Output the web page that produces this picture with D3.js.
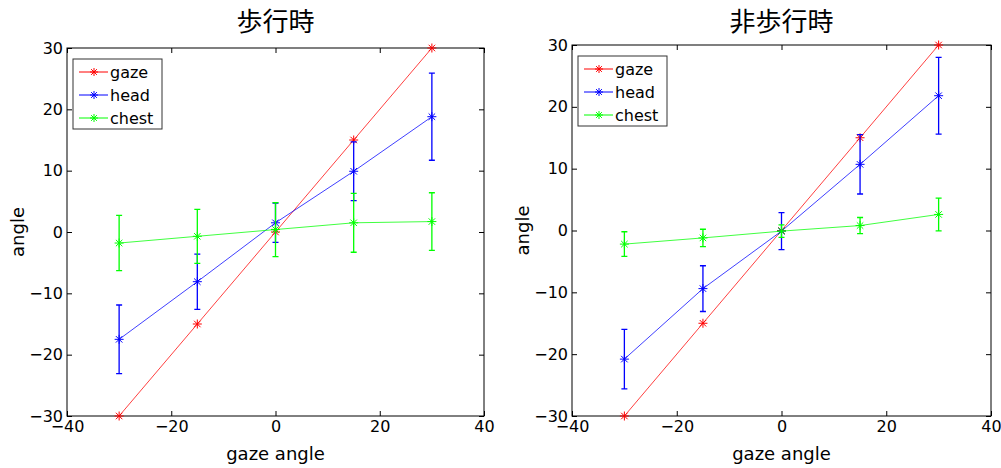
<!DOCTYPE html>
<html>
<head>
<meta charset="utf-8">
<script src="https://cdn.jsdelivr.net/npm/d3@7"></script>
<style>
  body { margin: 0; background: #fff; }
  svg { display: block; }
</style>
</head>
<body>
<div id="chart"></div>
<script>
// gaze angles (x positions)
const gazeAngles = [-30, -15, 0, 15, 30];
const xTicks = [-40, -20, 0, 20, 40];
const yTicks = [-30, -20, -10, 0, 10, 20, 30];
const seriesNames = ["gaze", "head", "chest"];
const seriesColors = ["#ff0000", "#0000ff", "#00ff00"];

// 歩行時 (walking)
const walkGaze = [-30, -15, 0, 15, 30];
const walkHead = [-17.5, -8.1, 1.5, 9.9, 18.8];
const walkHeadErr = [5.6, 4.5, 3.2, 4.8, 7.1];
const walkChest = [-1.8, -0.7, 0.4, 1.5, 1.7];
const walkChestErr = [4.5, 4.4, 4.4, 4.8, 4.7];

// 非歩行時 (not walking)
const stillGaze = [-30, -15, 0, 15, 30];
const stillHead = [-20.8, -9.4, -0.1, 10.7, 21.8];
const stillHeadErr = [4.8, 3.7, 3.0, 4.8, 6.2];
const stillChest = [-2.2, -1.2, -0.1, 0.8, 2.6];
const stillChestErr = [2.0, 1.4, 1.0, 1.3, 2.65];

const width = 1001, height = 468;
const latin = "'DejaVu Sans', sans-serif";
const cjk = "'Noto Sans CJK JP', sans-serif";

const svg = d3.select("#chart").append("svg")
  .attr("width", width)
  .attr("height", height)
  .attr("viewBox", [0, 0, width, height]);

function asterisk(g, cx, cy, color, r = 4.5) {
  const d = r * 0.72;
  g.append("path")
    .attr("d", `M${cx - r},${cy}H${cx + r}M${cx},${cy - r}V${cy + r}` +
      `M${cx - d},${cy - d}L${cx + d},${cy + d}M${cx - d},${cy + d}L${cx + d},${cy - d}`)
    .attr("stroke", color)
    .attr("stroke-width", 1)
    .attr("fill", "none");
}

function panel({ title, left, right, top, bottom, series }) {
  const x = d3.scaleLinear([-40, 40], [left, right]);
  const y = d3.scaleLinear([-30, 30], [bottom, top]);
  const g = svg.append("g");
  const fmt = d3.format("d");

  // axes (ticks pointing inward on all four sides)
  g.append("g")
    .attr("transform", `translate(0,${bottom})`)
    .call(d3.axisBottom(x).tickValues(xTicks).tickFormat(fmt).tickSizeInner(-5).tickSizeOuter(0).tickPadding(5))
    .call(a => a.select(".domain").remove())
    .call(a => a.selectAll("text").attr("font-size", 16).attr("font-family", latin).attr("fill", "#000"));
  g.append("g")
    .attr("transform", `translate(0,${top})`)
    .call(d3.axisTop(x).tickValues(xTicks).tickFormat("").tickSizeInner(-5).tickSizeOuter(0))
    .call(a => a.select(".domain").remove());
  g.append("g")
    .attr("transform", `translate(${left},0)`)
    .call(d3.axisLeft(y).tickValues(yTicks).tickFormat(fmt).tickSizeInner(-5).tickSizeOuter(0).tickPadding(4))
    .call(a => a.select(".domain").remove())
    .call(a => a.selectAll("text").attr("font-size", 16).attr("font-family", latin).attr("fill", "#000"));
  g.append("g")
    .attr("transform", `translate(${right},0)`)
    .call(d3.axisRight(y).tickValues(yTicks).tickFormat("").tickSizeInner(-5).tickSizeOuter(0))
    .call(a => a.select(".domain").remove());

  g.append("rect")
    .attr("x", left).attr("y", top)
    .attr("width", right - left).attr("height", bottom - top)
    .attr("fill", "none").attr("stroke", "#000").attr("stroke-width", 1);

  const line = d3.line().x((d, i) => x(gazeAngles[i])).y(d => y(d));

  series.forEach((s, k) => {
    const color = seriesColors[k];
    const sg = g.append("g");
    sg.append("path")
      .attr("d", line(s.values))
      .attr("fill", "none")
      .attr("stroke", color)
      .attr("stroke-width", 1)
      .attr("stroke-opacity", 0.75);
    if (s.err) {
      s.values.forEach((v, i) => {
        const cx = x(gazeAngles[i]);
        const y0 = y(v - s.err[i]), y1 = y(v + s.err[i]);
        sg.append("path")
          .attr("d", `M${cx},${y0}V${y1}M${cx - 3},${y0}H${cx + 3}M${cx - 3},${y1}H${cx + 3}`)
          .attr("stroke", color)
          .attr("stroke-width", 1.3)
          .attr("fill", "none");
      });
    }
    s.values.forEach((v, i) => asterisk(sg, x(gazeAngles[i]), y(v), color));
  });

  // legend
  const lx = left + 6, ly = top + 11;
  const lg = g.append("g");
  lg.append("rect")
    .attr("x", lx).attr("y", ly)
    .attr("width", 89).attr("height", 70)
    .attr("fill", "#fff").attr("stroke", "#333").attr("stroke-width", 1);
  seriesNames.forEach((name, k) => {
    const ry = ly + 13 + k * 23;
    lg.append("line")
      .attr("x1", lx + 6).attr("x2", lx + 35)
      .attr("y1", ry).attr("y2", ry)
      .attr("stroke", seriesColors[k]).attr("stroke-width", 1);
    asterisk(lg, lx + 21, ry, seriesColors[k], 4);
    lg.append("text")
      .attr("x", lx + 37).attr("y", ry)
      .attr("dy", "0.35em")
      .attr("font-size", 16)
      .attr("font-family", latin)
      .attr("fill", "#000")
      .text(name);
  });

  // titles and labels
  g.append("text")
    .attr("x", (left + right) / 2).attr("y", 22)
    .attr("dy", "0.36em")
    .attr("text-anchor", "middle")
    .attr("font-size", 26)
    .attr("font-family", cjk)
    .attr("fill", "#000")
    .text(title);
  g.append("text")
    .attr("x", (left + right) / 2).attr("y", 454)
    .attr("dy", "0.35em")
    .attr("text-anchor", "middle")
    .attr("font-size", 18)
    .attr("font-family", latin)
    .attr("fill", "#000")
    .text("gaze angle");
  g.append("text")
    .attr("transform", `translate(${left - 49},${(top + bottom) / 2}) rotate(-90)`)
    .attr("dy", "0.35em")
    .attr("text-anchor", "middle")
    .attr("font-size", 18)
    .attr("font-family", latin)
    .attr("fill", "#000")
    .text("angle");
}

panel({
  title: "歩行時", left: 67, right: 484, top: 48, bottom: 416,
  series: [
    { values: walkGaze },
    { values: walkHead, err: walkHeadErr },
    { values: walkChest, err: walkChestErr }
  ]
});

panel({
  title: "非歩行時", left: 572, right: 991, top: 45, bottom: 416,
  series: [
    { values: stillGaze },
    { values: stillHead, err: stillHeadErr },
    { values: stillChest, err: stillChestErr }
  ]
});
</script>
</body>
</html>
